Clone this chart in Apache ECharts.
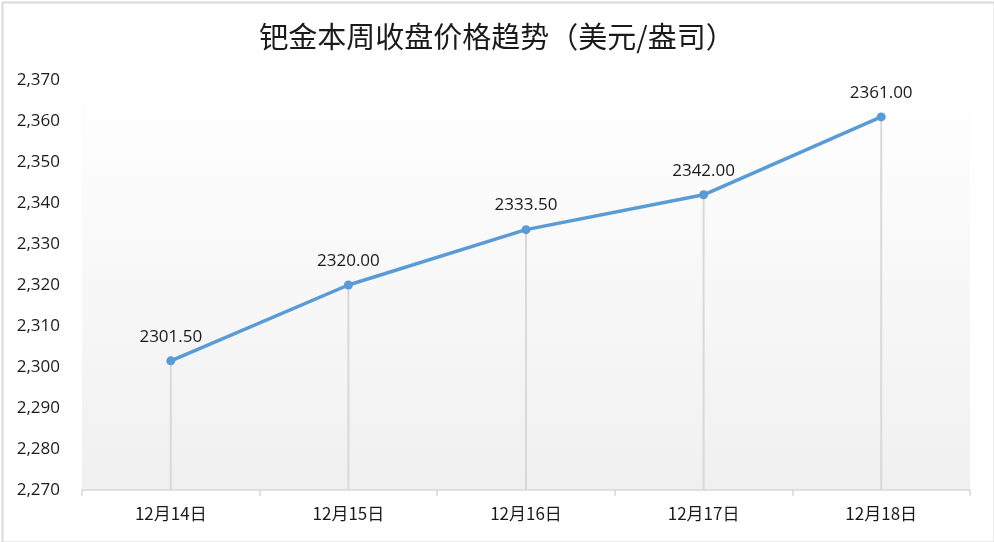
<!DOCTYPE html>
<html><head><meta charset="utf-8">
<script src="https://cdn.jsdelivr.net/npm/echarts@6/dist/echarts.min.js"></script>
<style>html,body{margin:0;padding:0;background:#fff}#c{width:994px;height:542px}</style>
</head><body><div id="c"></div>
<script>
const titleText = '钯金本周收盘价格趋势（美元/盎司）';
const categories = ['12月14日','12月15日','12月16日','12月17日','12月18日'];
const closePrices = [2301.50, 2320.00, 2333.50, 2342.00, 2361.00];
const yMin = 2270, yMax = 2370, yStep = 10;

const chart = echarts.init(document.getElementById('c'));
chart.setOption({
  backgroundColor: '#ffffff',
  animation: false,
  title: {
    text: titleText, left: 'center', top: 17,
    textStyle: { fontFamily: 'Noto Sans CJK SC', fontSize: 29, fontWeight: 'normal', color: '#1a1a1a' }
  },
  graphic: [{
    type: 'rect', left: 0, top: 0, silent: true, z: 100,
    shape: { x: 1, y: 1, width: 992, height: 540 },
    style: { fill: 'none', stroke: '#d9d9d9', lineWidth: 2 }
  }],
  grid: {
    left: 82, right: 24, top: 80, bottom: 52, show: true, borderWidth: 0,
    backgroundColor: new echarts.graphic.LinearGradient(0, 0, 0, 1, [
      { offset: 0, color: '#ffffff' }, { offset: 1, color: '#f0f0f0' }
    ])
  },
  xAxis: {
    type: 'category', data: categories, boundaryGap: true,
    axisLine: { lineStyle: { color: '#d9d9d9', width: 1.5 } },
    axisTick: { show: true, length: 6, alignWithLabel: false, lineStyle: { color: '#d9d9d9', width: 1.5 } },
    axisLabel: { color: '#1a1a1a', fontSize: 17, fontFamily: 'Noto Sans CJK SC', margin: 15 },
    splitLine: { show: false }
  },
  yAxis: {
    type: 'value', min: yMin, max: yMax, interval: yStep,
    axisLine: { show: false }, axisTick: { show: false },
    splitLine: { show: false },
    axisLabel: {
      color: '#1a1a1a', fontSize: 17, fontFamily: 'Open Sans', margin: 22,
      formatter: v => v.toLocaleString('en-US')
    }
  },
  series: [
    {
      type: 'bar', data: closePrices, barWidth: 2, silent: true,
      itemStyle: { color: '#d9d9d9' }, z: 1
    },
    {
      type: 'line', data: closePrices, z: 5,
      lineStyle: { color: '#5b9bd5', width: 3.5 },
      itemStyle: { color: '#5b9bd5' },
      symbol: 'circle', symbolSize: 9,
      label: {
        show: true, position: 'top', distance: 11, color: '#1a1a1a',
        fontSize: 17, fontFamily: 'Open Sans',
        formatter: p => p.value.toFixed(2)
      }
    }
  ]
});
</script></body></html>
